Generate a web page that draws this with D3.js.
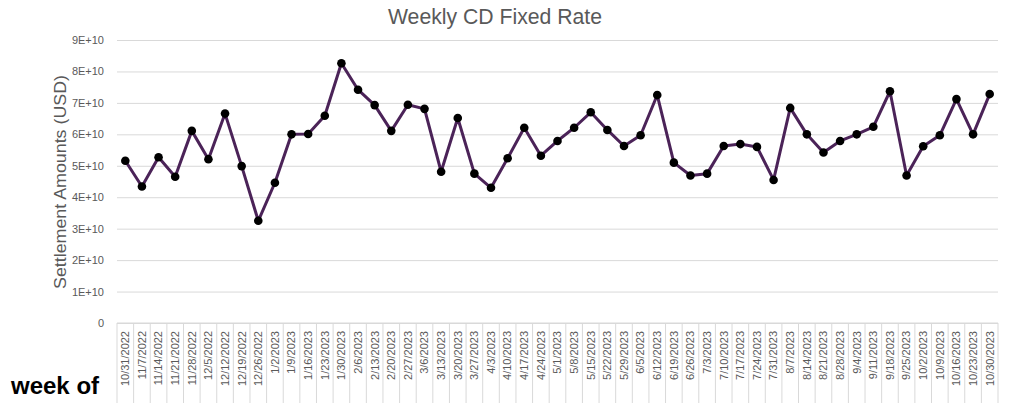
<!DOCTYPE html>
<html>
<head>
<meta charset="utf-8">
<title>Weekly CD Fixed Rate</title>
<script src="https://cdn.jsdelivr.net/npm/d3@7"></script>
<style>
  body {margin: 0; background: #fff;}
  .chart text {font-family: "Liberation Sans", Arial, sans-serif;}
</style>
</head>
<body>
<svg class="chart" width="1016" height="406"></svg>
<script>
// week-of dates
var weeks = ["10/31/2022","11/7/2022","11/14/2022","11/21/2022","11/28/2022","12/5/2022","12/12/2022","12/19/2022","12/26/2022",
  "1/2/2023","1/9/2023","1/16/2023","1/23/2023","1/30/2023","2/6/2023","2/13/2023","2/20/2023","2/27/2023","3/6/2023",
  "3/13/2023","3/20/2023","3/27/2023","4/3/2023","4/10/2023","4/17/2023","4/24/2023","5/1/2023","5/8/2023","5/15/2023",
  "5/22/2023","5/29/2023","6/5/2023","6/12/2023","6/19/2023","6/26/2023","7/3/2023","7/10/2023","7/17/2023","7/24/2023",
  "7/31/2023","8/7/2023","8/14/2023","8/21/2023","8/28/2023","9/4/2023","9/11/2023","9/18/2023","9/25/2023","10/2/2023",
  "10/9/2023","10/16/2023","10/23/2023","10/30/2023"];

// settlement amounts, USD
var amounts = [5.16e10,4.34e10,5.27e10,4.65e10,6.11e10,5.21e10,6.66e10,4.99e10,3.25e10,
  4.46e10,6.00e10,6.01e10,6.59e10,8.26e10,7.42e10,6.93e10,6.11e10,6.94e10,6.81e10,
  4.81e10,6.52e10,4.75e10,4.30e10,5.24e10,6.21e10,5.32e10,5.79e10,6.21e10,6.70e10,
  6.14e10,5.63e10,5.97e10,7.25e10,5.10e10,4.69e10,4.75e10,5.63e10,5.69e10,5.60e10,
  4.55e10,6.84e10,6.00e10,5.42e10,5.79e10,6.00e10,6.24e10,7.37e10,4.69e10,5.62e10,
  5.97e10,7.12e10,6.00e10,7.28e10];

var yTicks = [0,1e10,2e10,3e10,4e10,5e10,6e10,7e10,8e10,9e10];

var plotLeft = 117, plotRight = 998, plotTop = 40, plotBottom = 323;
var svg = d3.select(".chart");

var x = d3.scaleBand().domain(weeks).range([plotLeft, plotRight]);
var y = d3.scaleLinear().domain([0, 9e10]).range([plotBottom, plotTop]);

// gridlines + y labels
var yAxis = d3.axisLeft(y).tickValues(yTicks)
  .tickSize(-(plotRight - plotLeft))
  .tickPadding(13)
  .tickFormat(function(d){ return d === 0 ? "0" : (d / 1e10) + "E+10"; });

var gy = svg.append("g").attr("transform", "translate(" + plotLeft + ",0)").call(yAxis);
gy.select(".domain").remove();
gy.selectAll("line").attr("stroke", "#d9d9d9");
gy.selectAll("text").attr("fill", "#595959").style("font-size", "11px");

// x axis line and category separators
svg.append("line")
  .attr("x1", plotLeft).attr("x2", plotRight)
  .attr("y1", plotBottom).attr("y2", plotBottom)
  .attr("stroke", "#d9d9d9");

var bounds = weeks.map(function(w){ return x(w); }).concat([plotRight]);
svg.append("g").selectAll("line")
  .data(bounds)
  .enter().append("line")
  .attr("x1", function(d){ return d; }).attr("x2", function(d){ return d; })
  .attr("y1", plotBottom).attr("y2", 403)
  .attr("stroke", "#d9d9d9");

var xAxis = d3.axisBottom(x).tickSize(0).tickPadding(0);
var gx = svg.append("g").attr("transform", "translate(0," + plotBottom + ")").call(xAxis);
gx.select(".domain").remove();
gx.selectAll("text")
  .attr("fill", "#595959")
  .style("font-size", "11px")
  .attr("text-anchor", "end")
  .attr("dy", "0.35em")
  .attr("transform", "translate(0,8) rotate(-90)")
  .attr("x", 0).attr("y", 0);

// line
var line = d3.line()
  .x(function(d, i){ return x(weeks[i]) + x.bandwidth() / 2; })
  .y(function(d){ return y(d); });

svg.append("path")
  .datum(amounts)
  .attr("d", line)
  .attr("fill", "none")
  .attr("stroke", "#4b2358")
  .attr("stroke-width", 3)
  .attr("stroke-linejoin", "round");

svg.append("g").selectAll("circle")
  .data(amounts)
  .enter().append("circle")
  .attr("cx", function(d, i){ return x(weeks[i]) + x.bandwidth() / 2; })
  .attr("cy", function(d){ return y(d); })
  .attr("r", 4.3)
  .attr("fill", "#000");

// titles
svg.append("text")
  .attr("x", 495).attr("y", 24)
  .attr("text-anchor", "middle")
  .attr("fill", "#595959")
  .style("font-size", "22px")
  .attr("textLength", 214)
  .attr("lengthAdjust", "spacingAndGlyphs")
  .text("Weekly CD Fixed Rate");

svg.append("text")
  .attr("transform", "translate(66,182) rotate(-90)")
  .attr("text-anchor", "middle")
  .attr("fill", "#595959")
  .style("font-size", "16px")
  .attr("textLength", 214)
  .attr("lengthAdjust", "spacingAndGlyphs")
  .text("Settlement Amounts (USD)");

svg.append("text")
  .attr("x", 11).attr("y", 394)
  .attr("fill", "#000")
  .style("font-size", "24px")
  .style("font-weight", "bold")
  .text("week of");
</script>
</body>
</html>
